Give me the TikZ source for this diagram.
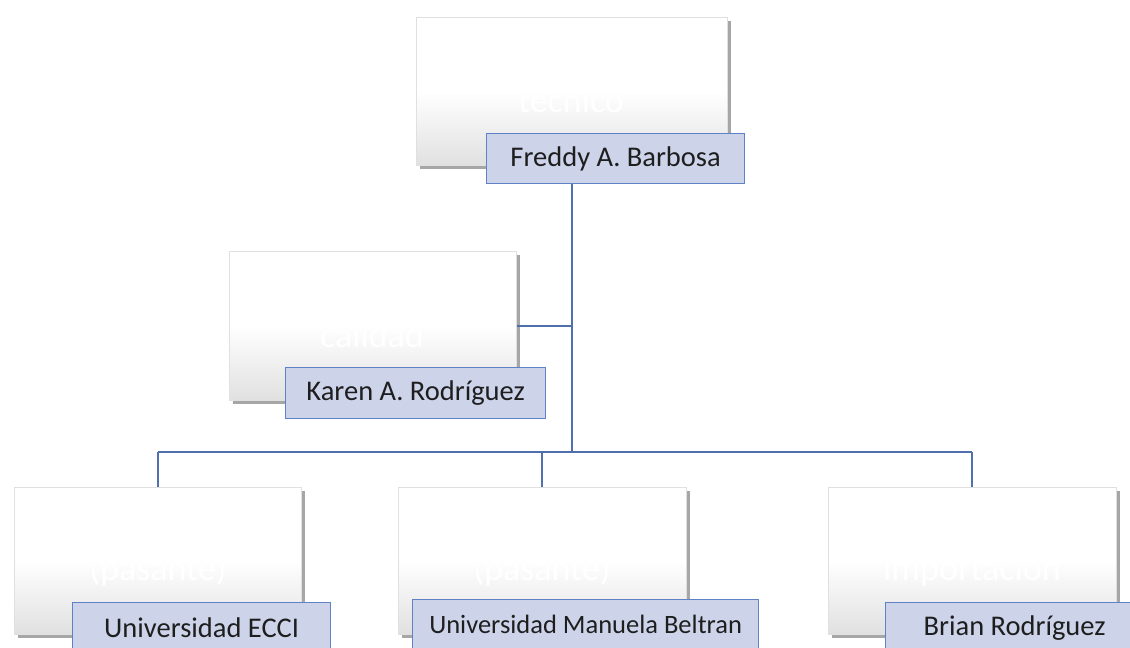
\documentclass[tikz,border=0pt]{standalone}
\usepackage{fontspec}
\setmainfont{Carlito}
\usetikzlibrary{shadows}
\definecolor{lnblue}{HTML}{4F6FAD}
\definecolor{labfill}{HTML}{CDD4EA}
\definecolor{labdraw}{HTML}{5F82C6}
\definecolor{txt}{HTML}{1E1E1E}
\tikzset{
  card/.style={draw=black!12, line width=0.6pt, top color=white, bottom color=black!12, middle color=white,
    anchor=north west, inner sep=0pt,
    drop shadow={shadow xshift=4pt, shadow yshift=-4pt, fill=black, opacity=0.35}},
  lab/.style={draw=labdraw, fill=labfill, line width=1.3pt, anchor=north west, inner sep=0pt,
    text=txt, font=\fontsize{28.5}{34}\selectfont},
  ghost/.style={text=white, anchor=base, font=\fontsize{36}{42}\selectfont, inner sep=0pt},
  conn/.style={draw=lnblue, line width=1.7pt}
}
\begin{document}
\begin{tikzpicture}[x=1pt,y=-1pt]
\useasboundingbox (0,0) rectangle (1130,648);
\clip (0,0) rectangle (1130,648);
\fill[white] (0,0) rectangle (1130,648);
\coordinate (bus) at (571,452);
% cards
\node[card, minimum width=311, minimum height=148] (t) at (416,17) {};
\node[card, minimum width=287, minimum height=149] (k) at (229,251) {};
\node[card, minimum width=287, minimum height=147] (b1) at (14,487) {};
\node[card, minimum width=288, minimum height=147] (b2) at (398,487) {};
\node[card, minimum width=288, minimum height=147] (b3) at (828,487) {};
% connectors
\draw[conn] (t.south |- 0,183) -- (t.south |- bus);
\draw[conn] (k.east) -- (k.east -| bus);
\draw[conn] (b1.north |- bus) -- (b3.north |- bus);
\draw[conn] (b1.north |- bus) -- (b1.north);
\draw[conn] (b2.north |- bus) -- (b2.north);
\draw[conn] (b3.north |- bus) -- (b3.north);
% ghost texts
\node[ghost] (tg) at (571,112) {tecnico};
\node[ghost] (kg) at (372,347) {calidad};
\node[ghost] (g1) at (158,580) {(pasante)};
\node[ghost] (g2) at (542,580) {(pasante)};
\node[ghost] (g3) at (972,580) {importación};
% labels
\node[lab, minimum width=258, minimum height=50] (tl) at (486,133) {Freddy A. Barbosa};
\node[lab, minimum width=260, minimum height=51] (kl) at (285,367) {Karen A. Rodríguez};
\node[lab, minimum width=258, minimum height=50] (l1) at (72,602) {Universidad ECCI};
\node[lab, minimum width=346, minimum height=50, font=\fontsize{26.5}{32}\selectfont] (l2) at (412,599) {Universidad Manuela Beltran};
\node[lab, minimum width=258, minimum height=50] (l3) at (885,602) {Brian Rodríguez};
\end{tikzpicture}
\end{document}
